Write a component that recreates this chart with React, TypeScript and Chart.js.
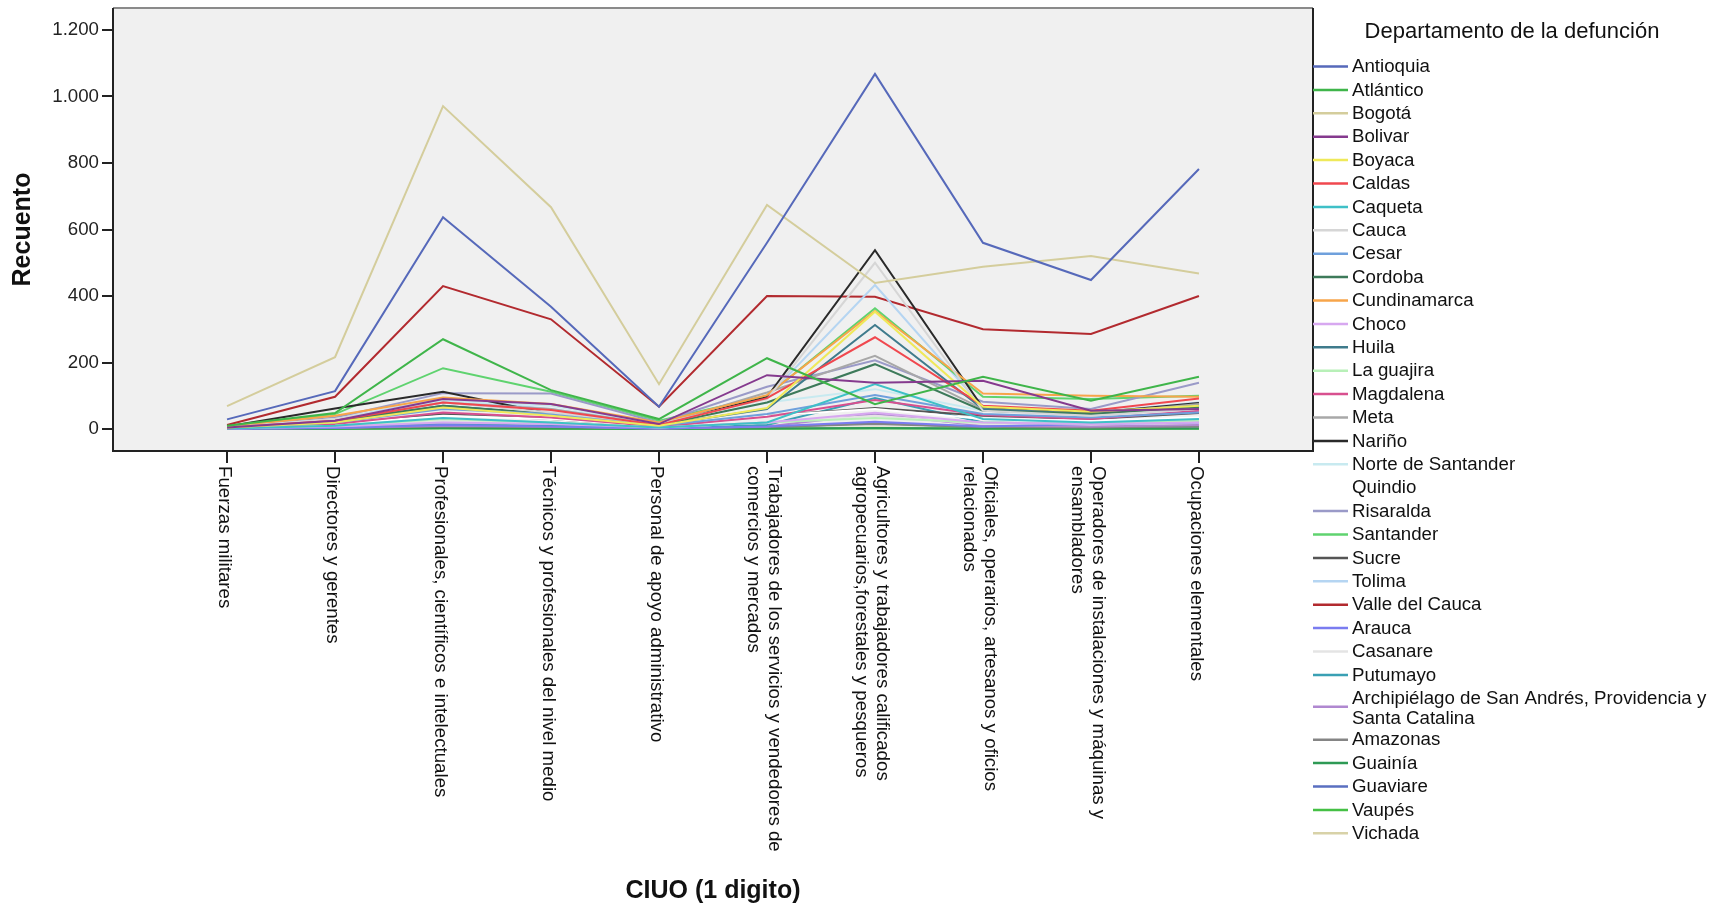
import React, { useEffect, useRef } from "react";
import { Chart, registerables } from "chart.js";

Chart.register(...registerables);

const FONT = "'Liberation Sans', Arial, sans-serif";

const categoryLines: string[][] = [
  ["Fuerzas militares"],
  ["Directores y gerentes"],
  ["Profesionales, científicos e intelectuales"],
  ["Técnicos y profesionales del nivel medio"],
  ["Personal de apoyo administrativo"],
  ["Trabajadores de los servicios y vendedores de", "comercios y mercados"],
  ["Agricultores y trabajadores calificados", "agropecuarios,forestales y pesqueros"],
  ["Oficiales, operarios, artesanos y oficios", "relacionados"],
  ["Operadores de instalaciones y máquinas y", "ensambladores"],
  ["Ocupaciones elementales"],
];

const yTicks = [0, 200, 400, 600, 800, 1000, 1200];

const departments = [
  "Antioquia", "Atlántico", "Bogotá", "Bolivar", "Boyaca", "Caldas", "Caqueta", "Cauca",
  "Cesar", "Cordoba", "Cundinamarca", "Choco", "Huila", "La guajira", "Magdalena", "Meta",
  "Nariño", "Norte de Santander", "Quindio", "Risaralda", "Santander", "Sucre", "Tolima",
  "Valle del Cauca", "Arauca", "Casanare", "Putumayo",
  "Archipiélago de San Andrés, Providencia y Santa Catalina", "Amazonas", "Guainía",
  "Guaviare", "Vaupés", "Vichada",
];

const colors = [
  "#5669ba", "#3fb54a", "#d4cd9c", "#853a8e", "#efe95a", "#f0484f", "#3fc0c7", "#d6d6d6",
  "#6fa0dc", "#3d7a5a", "#f7a54a", "#d7a8f0", "#3f7b8c", "#b8f0b8", "#d8508f", "#a8a8a8",
  "#2a2a2a", "#c8eaf0", "#ffffff", "#9a9ac8", "#5fd36f", "#555555", "#b5d5f2",
  "#b22a2f", "#7a7cf0", "#e4e4e4", "#3aa0b4",
  "#b088d0", "#858585", "#2e9a55",
  "#5a6fc0", "#45c045", "#d8d2a8",
];

const antioquia = [29, 114, 637, 368, 67, 560, 1068, 560, 448, 782];
const atlantico = [10, 48, 270, 117, 30, 213, 75, 157, 85, 157];
const bogota = [69, 216, 971, 667, 135, 674, 439, 488, 520, 468];
const bolivar = [5, 25, 90, 75, 15, 162, 139, 145, 55, 60];
const boyaca = [5, 20, 65, 40, 10, 63, 353, 67, 52, 70];
const caldas = [5, 25, 80, 57, 12, 93, 276, 70, 55, 92];
const caqueta = [2, 10, 33, 20, 5, 20, 135, 30, 20, 30];
const cauca = [5, 30, 80, 50, 15, 90, 500, 55, 40, 60];
const cesar = [4, 20, 60, 45, 10, 45, 102, 45, 35, 50];
const cordoba = [5, 25, 70, 45, 12, 80, 195, 55, 45, 65];
const cundinamarca = [8, 40, 95, 75, 20, 102, 355, 107, 100, 97];
const choco = [2, 8, 20, 15, 5, 20, 49, 20, 15, 20];
const huila = [4, 22, 70, 45, 12, 60, 313, 60, 45, 70];
const laGuajira = [3, 10, 30, 20, 5, 20, 33, 20, 15, 25];
const magdalena = [3, 15, 50, 35, 8, 37, 87, 42, 30, 55];
const meta = [5, 25, 80, 60, 12, 110, 220, 60, 45, 75];
const narino = [8, 62, 112, 45, 15, 96, 538, 63, 48, 78];
const norteSantander = [5, 30, 85, 70, 15, 80, 120, 55, 50, 70];
const quindio = [3, 15, 40, 30, 8, 40, 60, 30, 25, 35];
const risaralda = [5, 35, 108, 107, 20, 127, 207, 82, 60, 139];
const santander = [5, 45, 183, 112, 25, 100, 363, 97, 90, 100];
const sucre = [2, 15, 45, 30, 8, 40, 63, 40, 30, 48];
const tolima = [5, 30, 90, 60, 15, 95, 433, 65, 50, 80];
const valle = [12, 97, 430, 330, 67, 400, 398, 300, 286, 400];
const arauca = [1, 3, 12, 8, 2, 8, 22, 8, 15, 20];
const casanare = [2, 8, 25, 18, 5, 20, 40, 15, 15, 25];
const putumayo = [1, 5, 15, 10, 3, 12, 93, 20, 15, 25];
const archipielago = [1, 4, 10, 8, 2, 8, 45, 10, 8, 12];
const amazonas = [1, 3, 8, 6, 2, 6, 15, 6, 5, 8];
const guainia = [0, 1, 3, 2, 1, 2, 3, 2, 1, 2];
const guaviare = [1, 3, 8, 5, 2, 5, 18, 5, 5, 8];
const vaupes = [0, 1, 2, 1, 0, 1, 2, 1, 1, 1];
const vichada = [0, 1, 3, 2, 1, 2, 5, 2, 2, 3];

const seriesValues = [
  antioquia, atlantico, bogota, bolivar, boyaca, caldas, caqueta, cauca, cesar, cordoba,
  cundinamarca, choco, huila, laGuajira, magdalena, meta, narino, norteSantander, quindio,
  risaralda, santander, sucre, tolima, valle, arauca, casanare, putumayo, archipielago,
  amazonas, guainia, guaviare, vaupes, vichada,
];

const fmt = (v: number) => String(v).replace(/\B(?=(\d{3})+(?!\d))/g, ".");

const decorPlugin = {
  id: "decor",
  beforeDatasetsDraw(chart: any) {
    const { ctx, chartArea: a } = chart;
    ctx.save();
    ctx.fillStyle = "#f0f0f0";
    ctx.fillRect(a.left, a.top, a.right - a.left, a.bottom - a.top);
    ctx.restore();
  },
  afterDraw(chart: any) {
    const { ctx, chartArea: a } = chart;
    const xs = chart.scales.x;
    ctx.save();
    // frame
    ctx.lineWidth = 2;
    ctx.strokeStyle = "#8a8a8a";
    ctx.beginPath();
    ctx.moveTo(a.left, a.top);
    ctx.lineTo(a.right, a.top);
    ctx.stroke();
    ctx.strokeStyle = "#222";
    ctx.beginPath();
    ctx.moveTo(a.left, a.top);
    ctx.lineTo(a.left, a.bottom);
    ctx.lineTo(a.right, a.bottom);
    ctx.lineTo(a.right, a.top);
    ctx.stroke();

    // x category labels (rotated clockwise)
    ctx.fillStyle = "#111";
    ctx.font = `18.7px ${FONT}`;
    ctx.textAlign = "left";
    ctx.textBaseline = "middle";
    categoryLines.forEach((lines, i) => {
      const x = xs.getPixelForValue(i);
      ctx.save();
      ctx.translate(x, a.bottom + 15);
      ctx.rotate(Math.PI / 2);
      const n = lines.length;
      lines.forEach((t, k) => {
        const ly = (k - (n - 1) / 2) * 21 + 3;
        ctx.fillText(t, 0, ly);
      });
      ctx.restore();
    });

    // axis titles
    ctx.font = `bold 25px ${FONT}`;
    ctx.textAlign = "center";
    ctx.textBaseline = "middle";
    ctx.fillText("CIUO (1 digito)", (a.left + a.right) / 2, 891);
    ctx.save();
    ctx.translate(23, (a.top + a.bottom) / 2);
    ctx.rotate(-Math.PI / 2);
    ctx.fillText("Recuento", 0, 0);
    ctx.restore();

    // legend
    ctx.font = `22px ${FONT}`;
    ctx.textAlign = "center";
    ctx.fillText("Departamento de la defunción", 1512, 32);
    ctx.font = `18.7px ${FONT}`;
    ctx.textAlign = "left";
    let y = 67;
    const maxW = 376;
    chart.data.datasets.forEach((ds: any) => {
      const words = String(ds.label).split(" ");
      const lines: string[] = [];
      let cur = "";
      words.forEach((w) => {
        const test = cur ? cur + " " + w : w;
        if (ctx.measureText(test).width > maxW && cur) {
          lines.push(cur);
          cur = w;
        } else cur = test;
      });
      if (cur) lines.push(cur);
      const n = lines.length;
      const ly = n > 1 ? y + (n - 1) * 10 - 2 : y - 0.5;
      ctx.strokeStyle = ds.borderColor;
      ctx.lineWidth = 2.5;
      ctx.beginPath();
      ctx.moveTo(a.right, ly);
      ctx.lineTo(a.right + 35, ly);
      ctx.stroke();
      ctx.fillStyle = "#111";
      lines.forEach((t, k) => ctx.fillText(t, a.right + 39, y + k * 20));
      y += 23.4 + (n - 1) * 18;
    });
    ctx.restore();
  },
};

export default function App() {
  const ref = useRef<HTMLCanvasElement | null>(null);
  useEffect(() => {
    if (!ref.current) return;
    const chart = new Chart(ref.current, {
      type: "line",
      data: {
        datasets: departments.map((name, i) => ({
          label: name,
          data: seriesValues[i].map((v, j) => ({ x: j, y: v })),
          borderColor: colors[i],
          backgroundColor: colors[i],
          borderWidth: 2,
          pointRadius: 0,
          tension: 0,
          fill: false,
        })),
      },
      options: {
        animation: false,
        responsive: false,
        devicePixelRatio: 1,
        layout: { padding: { left: 0, top: 8, right: 418, bottom: 0 } },
        plugins: { legend: { display: false }, tooltip: { enabled: false } },
        events: [],
        scales: {
          x: {
            type: "linear",
            min: -1.056,
            max: 10.056,
            afterBuildTicks: (s: any) => {
              s.ticks = categoryLines.map((_, i) => ({ value: i }));
            },
            afterFit: (s: any) => {
              s.height = 457;
              s.paddingLeft = 0;
              s.paddingRight = 0;
            },
            ticks: { display: false },
            border: { display: false },
            grid: {
              drawOnChartArea: false,
              drawTicks: true,
              tickLength: 12,
              color: "#222",
              lineWidth: 2,
            },
          },
          y: {
            type: "linear",
            min: -66,
            max: 1266,
            afterBuildTicks: (s: any) => {
              s.ticks = yTicks.map((v) => ({ value: v }));
            },
            afterFit: (s: any) => {
              s.width = 113;
              s.paddingTop = 0;
              s.paddingBottom = 0;
            },
            ticks: {
              callback: (v: any) => fmt(Number(v)),
              font: { size: 18.7, family: FONT },
              color: "#222",
              padding: 3,
            },
            border: { display: false },
            grid: {
              drawOnChartArea: false,
              drawTicks: true,
              tickLength: 11,
              color: "#222",
              lineWidth: 2,
            },
          },
        },
      },
      plugins: [decorPlugin],
    } as any);
    return () => chart.destroy();
  }, []);
  return (
    <div
      style={{
        position: "fixed",
        left: 0,
        top: 0,
        width: 1731,
        height: 908,
        background: "#fff",
      }}
    >
      <canvas ref={ref} width={1731} height={908} style={{ display: "block" }} />
    </div>
  );
}
